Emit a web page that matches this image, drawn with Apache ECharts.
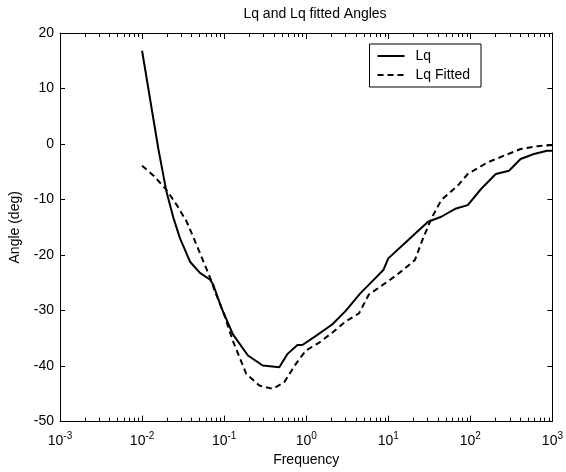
<!DOCTYPE html>
<html>
<head>
<meta charset="utf-8">
<script src="https://cdn.jsdelivr.net/npm/echarts@6/dist/echarts.min.js"></script>
<style>
  html, body { margin: 0; padding: 0; background: #fff; }
  #chart { width: 566px; height: 472px; }
</style>
</head>
<body>
<div id="chart"></div>
<script>
// Lq (measured) angle vs frequency
var lqFreq = [0.01, 0.0158, 0.0197, 0.0242, 0.029, 0.0384, 0.0507, 0.067, 0.0735, 0.0927,
  0.128, 0.195, 0.295, 0.47, 0.592, 0.782, 0.898, 1.3, 2.07, 3.01,
  4.5, 6.5, 8.7, 10.0, 17.5, 30.5, 44.2, 67, 93, 135,
  204, 296, 409, 594, 861, 1000];
var lqAngle = [16.8, -0.9, -8.4, -13.4, -17.0, -21.2, -23.2, -24.4, -25.3, -29.5,
  -34.3, -38.1, -39.9, -40.2, -37.8, -36.2, -36.2, -34.6, -32.5, -30.1,
  -27.0, -24.6, -22.7, -20.6, -17.3, -14.0, -13.1, -11.6, -11.0, -8.1,
  -5.4, -4.8, -2.7, -1.8, -1.2, -1.2];

// Lq fitted angle vs frequency
var fitFreq = [0.01, 0.0138, 0.0197, 0.0265, 0.035, 0.0462, 0.0583, 0.0701, 0.0769, 0.097,
  0.128, 0.186, 0.269, 0.39, 0.54, 0.748, 0.989, 1.43, 2.07, 3.0,
  4.4, 5.8, 10.0, 14.5, 21.1, 26.5, 33.5, 44.2, 70, 93,
  162, 257, 409, 652, 944, 1000];
var fitAngle = [-3.9, -5.7, -8.2, -11.0, -14.0, -18.2, -21.8, -24.7, -26.5, -30.1,
  -35.5, -41.4, -43.5, -44.1, -42.9, -39.6, -37.2, -35.8, -34.0, -32.0,
  -30.5, -27.1, -24.7, -22.9, -20.9, -17.0, -13.4, -10.1, -7.5, -5.4,
  -3.3, -2.1, -0.9, -0.4, -0.2, -0.2];

var yTicks = [-50, -40, -30, -20, -10, 0, 10, 20];
var xDecades = [0.001, 0.01, 0.1, 1, 10, 100, 1000];

var FONT = 'Liberation Sans';

function pairs(xs, ys) {
  return xs.map(function (x, i) { return [x, ys[i]]; });
}

var chart = echarts.init(document.getElementById('chart'));

var xAxisBase = {
  type: 'log',
  logBase: 10,
  min: xDecades[0],
  max: xDecades[xDecades.length - 1],
  axisLine: { onZero: false, lineStyle: { color: '#000', width: 1 } },
  axisTick: { inside: true, length: 6, lineStyle: { color: '#000' } },
  splitLine: { show: false }
};

var yAxisBase = {
  type: 'value',
  min: yTicks[0],
  max: yTicks[yTicks.length - 1],
  interval: 10,
  axisLine: { show: true, onZero: false, lineStyle: { color: '#000', width: 1 } },
  axisTick: { inside: true, length: 5, lineStyle: { color: '#000' } },
  splitLine: { show: false }
};

var option = {
  backgroundColor: '#fff',
  animation: false,
  title: {
    text: 'Lq and Lq fitted Angles',
    left: 310,
    textAlign: 'center',
    top: 2,
    textStyle: { fontFamily: FONT, fontSize: 14, fontWeight: 'normal', color: '#000' }
  },
  legend: {
    orient: 'vertical',
    right: 85,
    top: 44,
    backgroundColor: '#fff',
    borderColor: '#000',
    borderWidth: 1,
    borderRadius: 0,
    padding: [5, 11, 5, 7],
    itemWidth: 27,
    itemHeight: 12,
    itemGap: 5,
    itemStyle: { opacity: 0 },
    textStyle: { fontFamily: FONT, fontSize: 14, color: '#000', padding: [0, 0, 0, 6] },
    data: ['Lq', 'Lq Fitted']
  },
  grid: { left: 58, right: 9, top: 33, bottom: 47 },
  xAxis: [
    Object.assign({}, xAxisBase, {
      position: 'bottom',
      name: 'Frequency',
      nameLocation: 'middle',
      nameGap: 31,
      nameTextStyle: { fontFamily: FONT, fontSize: 14, color: '#000' },
      axisLabel: {
        margin: 10,
        formatter: function (v) {
          return '{b|10}{e|' + Math.round(Math.log10(v)) + '}';
        },
        rich: {
          b: { fontFamily: FONT, fontSize: 14, color: '#000' },
          e: { fontFamily: FONT, fontSize: 10, color: '#000', padding: [0, 0, 9, 0] }
        }
      }
    }),
    Object.assign({}, xAxisBase, {
      position: 'top',
      axisLabel: { show: false }
    })
  ],
  yAxis: [
    Object.assign({}, yAxisBase, {
      position: 'left',
      name: 'Angle (deg)',
      nameLocation: 'middle',
      nameGap: 38,
      nameTextStyle: { fontFamily: FONT, fontSize: 14, color: '#000' },
      axisLabel: { margin: 6, fontFamily: FONT, fontSize: 14, color: '#000' }
    }),
    Object.assign({}, yAxisBase, {
      position: 'right',
      axisLabel: { show: false }
    })
  ],
  series: [
    {
      name: 'Lq',
      type: 'line',
      symbol: 'none',
      data: pairs(lqFreq, lqAngle),
      lineStyle: { color: '#000', width: 2 },
      itemStyle: { color: '#000' }
    },
    {
      name: 'Lq Fitted',
      type: 'line',
      symbol: 'none',
      data: pairs(fitFreq, fitAngle),
      lineStyle: { color: '#000', width: 2, type: [6, 4] },
      itemStyle: { color: '#000' }
    }
  ]
};

chart.setOption(option);

// log-style minor ticks (2..9 per decade) on bottom and top axes
function drawMinorTicks() {
  var yBot = chart.convertToPixel({ yAxisIndex: 0 }, yTicks[0]);
  var yTop = chart.convertToPixel({ yAxisIndex: 0 }, yTicks[yTicks.length - 1]);
  var els = [];
  for (var d = 0; d < xDecades.length - 1; d++) {
    for (var k = 2; k <= 9; k++) {
      var px = Math.round(chart.convertToPixel({ xAxisIndex: 0 }, xDecades[d] * k)) + 0.5;
      els.push({
        type: 'line', silent: true,
        shape: { x1: px, y1: yBot, x2: px, y2: yBot - 4 },
        style: { stroke: '#000', lineWidth: 1 }
      });
      els.push({
        type: 'line', silent: true,
        shape: { x1: px, y1: yTop, x2: px, y2: yTop + 4 },
        style: { stroke: '#000', lineWidth: 1 }
      });
    }
  }
  chart.setOption({ graphic: els });
}
drawMinorTicks();
</script>
</body>
</html>
